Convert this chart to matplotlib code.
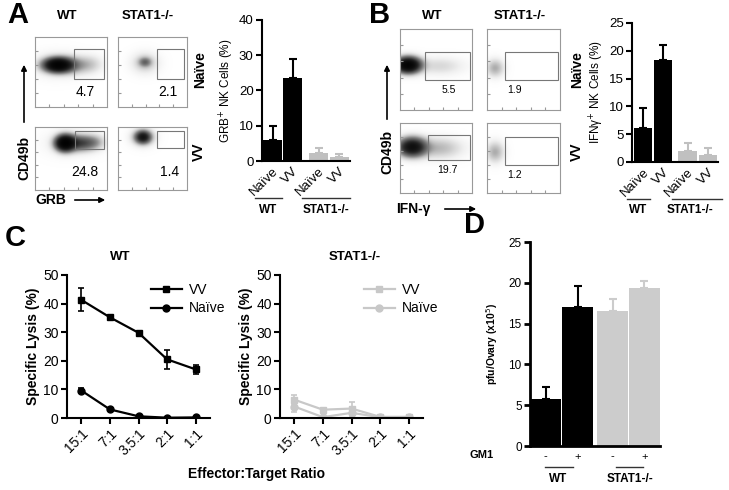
import numpy as np
import matplotlib
matplotlib.use("Agg")
import matplotlib.pyplot as plt
from matplotlib.patches import Rectangle
from matplotlib.lines import Line2D

plt.rcParams['font.family'] = ['Liberation Sans', 'DejaVu Sans']

W, H = 729, 490
fig = plt.figure(figsize=(W / 100, H / 100), dpi=100)

# ---- data ----
groups = ['WT', 'STAT1-/-']
bar_labels = ['Naïve', 'VV', 'Naïve', 'VV']

a_flow_pct = [['4.7', '2.1'], ['24.8', '1.4']]
b_flow_pct = [['5.5', '1.9'], ['19.7', '1.2']]

a_bar_vals = [6.0, 23.5, 2.4, 1.2]
a_bar_err = [4.0, 5.3, 1.3, 0.8]
b_bar_vals = [6.1, 18.4, 1.9, 1.3]
b_bar_err = [3.7, 2.7, 1.6, 1.3]

ratios = ['15:1', '7:1', '3.5:1', '2:1', '1:1']
wt_vv = [41.3, 35.2, 29.8, 20.5, 17.0]
wt_vv_err = [4.0, 0.5, 0.6, 3.2, 1.6]
wt_naive = [9.6, 3.0, 0.6, 0.1, 0.2]
wt_naive_err = [1.0, 0.4, 0.3, 0.2, 0.3]
stat_vv = [6.4, 2.9, 3.3, 0.4, 0.4]
stat_vv_err = [1.6, 0.6, 2.3, 0.4, 0.3]
stat_naive = [4.0, 0.3, 1.8, 0.3, 0.2]
stat_naive_err = [2.0, 0.3, 1.2, 0.3, 0.2]

gm1 = ['-', '+', '-', '+']
d_vals = [5.7, 17.0, 16.6, 19.4]
d_err = [1.5, 2.6, 1.4, 0.8]

BLACK = '#000000'
GRAY = '#c0c0c0'
LGRAY = '#c8c8c8'


def px_axes(x0, y0, x1, y1):
    return fig.add_axes([x0 / W, 1 - y1 / H, (x1 - x0) / W, (y1 - y0) / H])


# ---- flow plots (drawn in pixel coordinates) ----
def flow(box, gate, blobs):
    x0, y0, x1, y1 = box
    ax = px_axes(x0, y0, x1, y1)
    xs = np.linspace(x0, x1, 200)
    ys = np.linspace(y0, y1, 200)
    X, Y = np.meshgrid(xs, ys)
    D = np.zeros_like(X)
    for cx, cy, sx, sy, w in blobs:
        D += w * np.exp(-((X - cx) ** 2 / (2 * sx ** 2) + (Y - cy) ** 2 / (2 * sy ** 2)))
    D = 1 - np.exp(-1.6 * D)
    ax.imshow(D, extent=(x0, x1, y1, y0), origin='upper', cmap='Greys',
              vmin=0, vmax=1, aspect='auto', interpolation='bilinear')
    ax.set_xlim(x0, x1)
    ax.set_ylim(y1, y0)
    gx0, gy0, gx1, gy1 = gate
    ax.add_patch(Rectangle((gx0, gy0), gx1 - gx0, gy1 - gy0, fill=False,
                           lw=0.8, ec='#777777'))
    for s in ax.spines.values():
        s.set_color('#999999')
        s.set_linewidth(0.8)
    ax.set_xticks(np.linspace(x0, x1, 6)[1:-1])
    ax.set_yticks(np.linspace(y0, y1, 6)[1:-1])
    ax.tick_params(direction='in', length=2, color='#999999',
                   labelleft=False, labelbottom=False)
    return ax


# panel A flows
flow((35, 37, 107, 107), (74, 49, 104, 79),
     [(58, 65, 9, 4.5, 2.5), (76, 65, 12, 6, 0.35), (92, 64, 8, 6, 0.12),
      (55, 65, 16, 9, 0.12)])
flow((118, 37, 187, 107), (157, 49, 184, 79),
     [(145, 62, 4, 3, 0.5), (145, 63, 9, 7, 0.25)])
flow((35, 127, 107, 190), (75, 131, 104, 149),
     [(65, 143, 6, 5, 2.5), (80, 143, 10, 5, 0.9), (95, 142, 7, 5, 0.25),
      (70, 143, 18, 9, 0.1)])
flow((118, 127, 187, 190), (157, 131, 184, 148),
     [(143, 137, 5, 4, 1.4), (143, 137, 8, 6, 0.3)])

# panel B flows
flow((400, 29, 472, 110), (425, 52, 470, 80),
     [(408, 65, 8, 5, 2.5), (440, 66, 16, 6, 0.18)])
flow((487, 29, 560, 110), (505, 52, 558, 80),
     [(495, 68, 6, 6, 0.35)])
flow((400, 123, 472, 193), (428, 135, 470, 160),
     [(412, 147, 9, 6, 1.8), (440, 148, 15, 7, 0.3)])
flow((487, 123, 560, 193), (505, 137, 558, 165),
     [(495, 152, 6, 7, 0.35)])


# ---- bar panels ----
def style_axes(ax, lw=1.5, fs=9):
    ax.spines['top'].set_visible(False)
    ax.spines['right'].set_visible(False)
    ax.spines['left'].set_linewidth(lw)
    ax.spines['bottom'].set_linewidth(lw)
    ax.tick_params(width=lw, length=4, labelsize=fs, pad=2)


def bars(ax, pos, vals, errs, colors, width):
    ax.bar(pos, vals, width, color=colors)
    for p, v, e, c in zip(pos, vals, errs, colors):
        ax.errorbar(p, v, yerr=[[0], [e]], color=c, capsize=3, lw=1.5,
                    capthick=1.5)


bar_colors = [BLACK, BLACK, GRAY, GRAY]

axA = px_axes(262, 20, 350, 161)
posA = [0, 1, 2.3, 3.33]
bars(axA, posA, a_bar_vals, a_bar_err, bar_colors, 0.95)
axA.set_xlim(-0.525, 3.875)
axA.set_ylim(0, 40)
axA.set_yticks([0, 10, 20, 30, 40])
style_axes(axA, fs=9.5)
axA.set_xticks(posA)
axA.set_xticklabels(bar_labels, rotation=45, ha='right', rotation_mode='anchor',
                    fontsize=9.5)
axA.tick_params(axis='x', length=0, pad=3)
axA.set_ylabel('GRB$^{+}$ NK Cells (%)', fontsize=8.5, labelpad=2)

axB = px_axes(632, 23, 718, 162)
posB = [0, 1, 2.225, 3.25]
bars(axB, posB, b_bar_vals, b_bar_err, bar_colors, 0.92)
axB.set_xlim(-0.55, 3.75)
axB.set_ylim(0, 25)
axB.set_yticks([0, 5, 10, 15, 20, 25])
style_axes(axB, fs=9.5)
axB.set_xticks(posB)
axB.set_xticklabels(bar_labels, rotation=45, ha='right', rotation_mode='anchor',
                    fontsize=9.5)
axB.tick_params(axis='x', length=0, pad=3)
axB.set_ylabel('IFNγ$^{+}$ NK Cells (%)', fontsize=8.5, labelpad=2)


# ---- panel C ----
def lysis(box, vv, vv_err, nv, nv_err, color):
    ax = px_axes(*box)
    x = np.arange(len(ratios))
    ax.errorbar(x, vv, yerr=vv_err, fmt='none', ecolor=color, capsize=2.5,
                capthick=1.2, elinewidth=1.2)
    ax.errorbar(x, nv, yerr=nv_err, fmt='none', ecolor=color, capsize=2.5,
                capthick=1.2, elinewidth=1.2)
    ax.plot(x, vv, color=color, marker='s', ms=5, lw=1.6, label='VV')
    ax.plot(x, nv, color=color, marker='o', ms=5, lw=1.6, label='Naïve')
    ax.set_xlim(-0.5, 4.5)
    ax.set_ylim(0, 50)
    ax.set_yticks([0, 10, 20, 30, 40, 50])
    style_axes(ax, fs=10)
    ax.set_xticks(x)
    ax.set_xticklabels(ratios, rotation=45, ha='right', rotation_mode='anchor')
    ax.set_ylabel('Specific Lysis (%)', fontsize=10, fontweight='bold', labelpad=2)
    ax.legend(loc='upper left', bbox_to_anchor=(0.5, 1.03), frameon=False,
              fontsize=10, handlelength=2.2, handletextpad=0.5,
              labelspacing=0.3)
    return ax


lysis((67, 275, 210, 418), wt_vv, wt_vv_err, wt_naive, wt_naive_err, BLACK)
lysis((280, 275, 423, 418), stat_vv, stat_vv_err, stat_naive, stat_naive_err, LGRAY)

# ---- panel D ----
axD = px_axes(530, 242, 660, 446)
posD = [0, 1, 2.11, 3.11]
bars(axD, posD, d_vals, d_err, [BLACK, BLACK, '#cccccc', '#cccccc'], 0.97)
axD.set_xlim(-0.5, 3.6)
axD.set_ylim(0, 25)
axD.set_yticks([0, 5, 10, 15, 20, 25])
style_axes(axD, lw=2, fs=8.5)
axD.set_xticks(posD)
axD.set_xticklabels(gm1, fontsize=8)
axD.tick_params(axis='x', length=0, pad=4)
axD.set_ylabel('pfu/Ovary (x10$^{5}$)', fontsize=7.5, fontweight='bold', labelpad=6)

# ---- overlay for labels, lines and arrows ----
ov = fig.add_axes([0, 0, 1, 1])
ov.set_xlim(0, W)
ov.set_ylim(H, 0)
ov.axis('off')


def T(x, y, s, size=9, weight='bold', rot=0):
    ov.text(x, y, s, fontsize=size, fontweight=weight, rotation=rot,
            ha='center', va='center')


for x, y, s in [(18, 15, 'A'), (380, 15, 'B'), (15, 238, 'C'), (475, 225, 'D')]:
    T(x, y, s, size=21)

T(67, 16, 'WT', size=9.5); T(148, 16, 'STAT1-/-', size=9.5)
T(432, 16, 'WT', size=9.5); T(520, 16, 'STAT1-/-', size=9.5)
T(200, 70, 'Naïve', size=10, rot=90); T(199, 152, 'VV', size=10, rot=90)
T(577, 70, 'Naïve', size=10, rot=90); T(577, 152, 'VV', size=10, rot=90)

for (x, y), s in zip([(85, 92), (168, 92), (85, 172), (170, 172)],
                     [p for row in a_flow_pct for p in row]):
    T(x, y, s, size=10, weight='normal')
for (x, y), s in zip([(449, 90), (515, 90), (447, 170), (515, 175)],
                     [p for row in b_flow_pct for p in row]):
    T(x, y, s, size=7.5, weight='normal')

T(24, 158, 'CD49b', size=10, rot=90)
T(387, 152, 'CD49b', size=10, rot=90)
T(51, 200, 'GRB', size=10)
T(413, 209, 'IFN-γ', size=10)
arrow = dict(arrowstyle='-|>', lw=1.2, color='k', mutation_scale=8)
ov.annotate('', xy=(24, 62), xytext=(24, 125), arrowprops=arrow)
ov.annotate('', xy=(387, 62), xytext=(387, 122), arrowprops=arrow)
ov.annotate('', xy=(108, 200), xytext=(72, 200), arrowprops=arrow)
ov.annotate('', xy=(479, 209), xytext=(442, 209), arrowprops=arrow)

# group underlines
for (xa, xb), y, xl, yl, s in [((255, 282), 198, 268, 210, groups[0]),
                               ((302, 350), 198, 326, 210, groups[1]),
                               ((627, 650), 199, 638, 210, groups[0]),
                               ((672, 722), 199, 690, 210, groups[1]),
                               ((545, 573), 467, 558, 479, groups[0]),
                               ((616, 643), 467, 630, 479, groups[1])]:
    ov.plot([xa, xb], [y, y], color='#333333', lw=1)
    T(xl, yl, s, size=8.5)

T(482, 455, 'GM1', size=8)
T(120, 257, 'WT', size=9.5); T(355, 257, 'STAT1-/-', size=9.5)
T(257, 474, 'Effector:Target Ratio', size=10)

fig.savefig('out.png', dpi=100)
